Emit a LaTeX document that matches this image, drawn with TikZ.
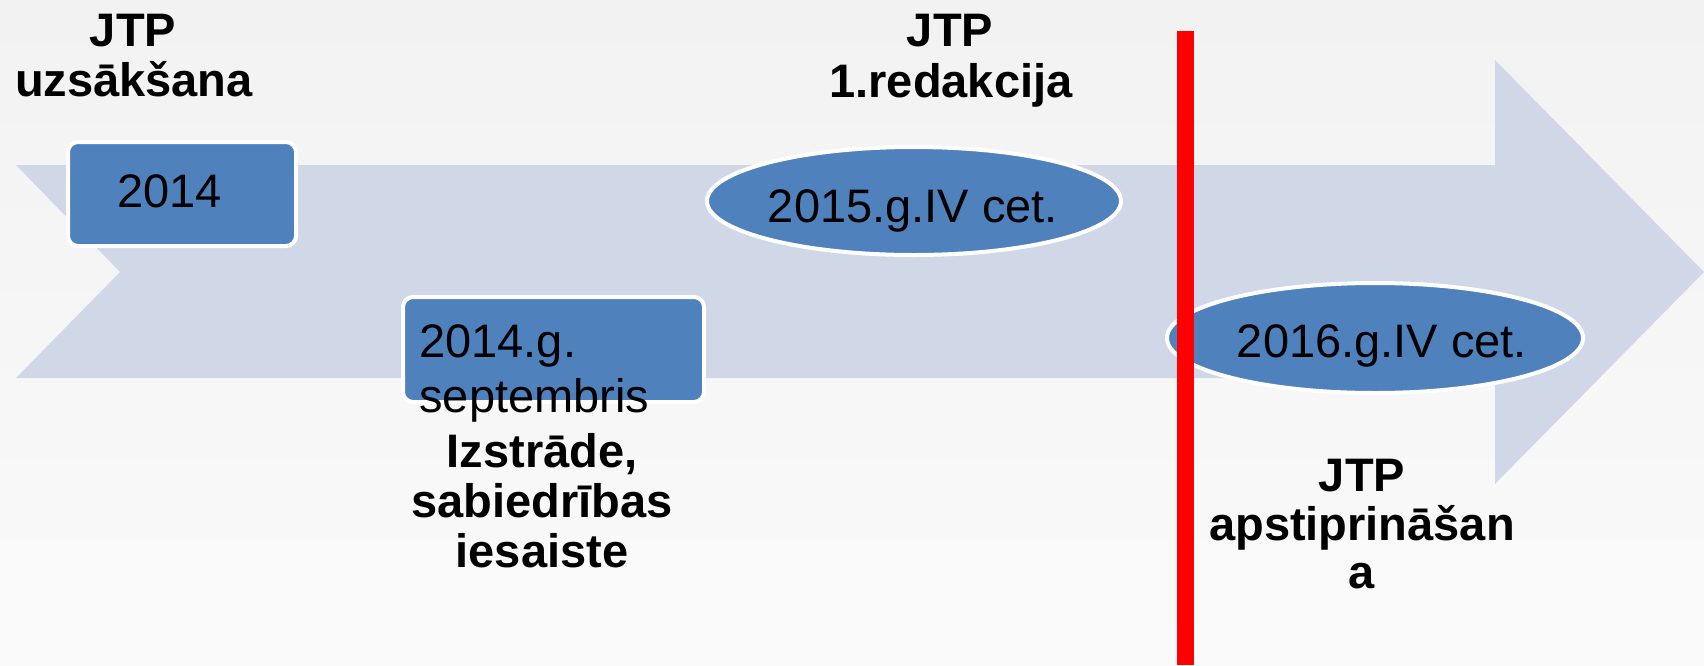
\documentclass[tikz,border=0pt]{standalone}
\usepackage{fontspec}
\setmainfont{Liberation Sans}
\usetikzlibrary{shapes.geometric}
\definecolor{bgtop}{HTML}{F2F2F2}
\definecolor{bgbot}{HTML}{FAFAFA}
\definecolor{arrowfill}{HTML}{D0D8E8}
\definecolor{boxfill}{HTML}{4F81BD}
\begin{document}
\begin{tikzpicture}[x=0.5pt,y=-0.5pt,
  lbl/.style={font=\fontsize{23.5pt}{28pt}\selectfont\bfseries, anchor=base, inner sep=0pt},
  txt/.style={font=\fontsize{23.5pt}{28pt}\selectfont, anchor=base, inner sep=0pt},
  rbox/.style={rectangle, fill=boxfill, draw=white, line width=2pt, rounded corners=5pt, inner sep=0pt},
  oval/.style={ellipse, fill=boxfill, draw=white, line width=2pt, inner sep=0pt},
  redline/.style={draw=red, line width=8.5pt}]
\useasboundingbox (0,0) rectangle (1704,665);
\shade[top color=bgtop, bottom color=bgbot] (0,0) rectangle (1704,665);
% big arrow
\fill[arrowfill] (16,165) -- (1495,165) -- (1495,60) -- (1704,272) -- (1495,484)
  -- (1495,378) -- (16,378) -- (120,272) -- cycle;
% shapes
\node[rbox, minimum width=114pt, minimum height=52pt] (b1) at (182,194) {};
\node[rbox, minimum width=150.5pt, minimum height=52.5pt] (b2) at (553.5,349.5) {};
\node[oval, minimum width=207pt, minimum height=54pt] (e1) at (914,201) {};
\node[oval, minimum width=208pt, minimum height=55pt] (e2) at (1375,338) {};
% texts in shapes
\node[txt, anchor=base west] (t1) at (117,207) {2014};
\node[txt, anchor=base west] (t2a) at (419,357) {2014.g.};
\node[txt, anchor=base west] (t2b) at (419,412) {septembris};
\node[txt] (t3) at (913,222) {2015.g.IV cet.};
\node[txt] (t4) at (1382,357) {2016.g.IV cet.};
% labels
\node[lbl] (l1a) at (133,46) {JTP};
\node[lbl] (l1b) at (134,96) {uzsākšana};
\node[lbl] (l2a) at (950,46) {JTP};
\node[lbl] (l2b) at (951,97) {1.redakcija};
\node[lbl] (l3a) at (542,467) {Izstrāde,};
\node[lbl] (l3b) at (542,517) {sabiedrības};
\node[lbl] (l3c) at (542,567) {iesaiste};
\node[lbl] (l4a) at (1362,491) {JTP};
\node[lbl] (l4b) at (1362,540) {apstiprināšan};
\node[lbl] (l4c) at (1362,588) {a};
% red line
\coordinate (rtop) at (1185.5,31);
\coordinate (rbot) at (1185.5,665);
\draw[redline] (rtop) -- (rbot);
\end{tikzpicture}
\end{document}
